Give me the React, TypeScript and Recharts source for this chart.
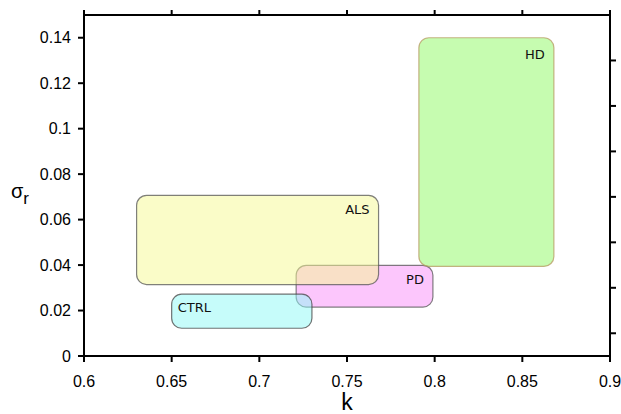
import { ScatterChart, Scatter, XAxis, YAxis, ReferenceArea } from 'recharts'

// draw order: PD first, ALS over it, CTRL over PD
const groups = ['PD', 'ALS', 'CTRL', 'HD']
const kLow = [0.721, 0.63, 0.65, 0.791]
const kHigh = [0.799, 0.768, 0.73, 0.868]
const sigmaLow = [0.0215, 0.0314, 0.0122, 0.0394]
const sigmaHigh = [0.0399, 0.0707, 0.0272, 0.14]

const kTicks = [0.6, 0.65, 0.7, 0.75, 0.8, 0.85, 0.9]
const sigmaTicks = [0, 0.02, 0.04, 0.06, 0.08, 0.1, 0.12, 0.14]
const sigmaMinorTicks = [0.01, 0.03, 0.05, 0.07, 0.09, 0.11, 0.13]

const STYLE: Record<string, { fill: string; stroke: string; anchor: 'start' | 'end'; dy: number }> = {
  PD: { fill: '#f98df9', stroke: '#555', anchor: 'end', dy: 19 },
  ALS: { fill: '#f5f991', stroke: '#555', anchor: 'end', dy: 19 },
  CTRL: { fill: '#8df9f5', stroke: '#444', anchor: 'start', dy: 18 },
  HD: { fill: '#8df961', stroke: '#b59a60', anchor: 'end', dy: 21 },
}

const FONT = '"Liberation Sans", Arial, sans-serif'

function Box({ x, y, width, height, name }: any) {
  const s = STYLE[name]
  const tx = s.anchor === 'end' ? x + width - 9 : x + 6
  return (
    <g>
      <rect
        x={x}
        y={y}
        width={width}
        height={height}
        rx={10}
        ry={10}
        fill={s.fill}
        fillOpacity={0.5}
        stroke={s.stroke}
        strokeOpacity={0.75}
        strokeWidth={1.2}
      />
      <text
        x={tx}
        y={y + s.dy}
        textAnchor={s.anchor}
        fontFamily='"DejaVu Sans", sans-serif'
        fontSize={13}
        fill="#111"
      >
        {name}
      </text>
    </g>
  )
}

function SigmaLabel({ viewBox }: any) {
  const cy = viewBox.y + viewBox.height / 2
  return (
    <text x={11} y={cy + 12} fontFamily={FONT} fill="#000">
      <tspan fontSize={20}>σ</tspan>
      <tspan fontSize={17} dy={6}>r</tspan>
    </text>
  )
}

const axisLine = { stroke: '#000', strokeWidth: 2 }
const tickLine = { stroke: '#000', strokeWidth: 2 }
const tickStyle = { fill: '#000', fontSize: 16, fontFamily: FONT }

export default function App() {
  return (
    <div style={{ position: 'absolute', left: 0, top: 0, width: 621, height: 414, background: '#fff' }}>
      <ScatterChart width={621} height={414} margin={{ top: 0, right: 0, bottom: 0, left: 0 }}>
        <XAxis
          type="number"
          dataKey="k"
          xAxisId={0}
          domain={[0.6, 0.9]}
          ticks={kTicks}
          interval={0}
          tickFormatter={(v) => String(v)}
          height={58}
          tickSize={6}
          tickMargin={14}
          axisLine={axisLine}
          tickLine={tickLine}
          tick={tickStyle}
          allowDataOverflow
          label={{ value: 'k', position: 'insideBottom', offset: 4, fontSize: 23, fontFamily: FONT, fill: '#000' }}
        />
        <XAxis
          type="number"
          dataKey="k"
          xAxisId="top"
          orientation="top"
          domain={[0.6, 0.9]}
          ticks={kTicks}
          interval={0}
          tick={{ fontSize: 1, fill: 'none' }}
          tickFormatter={() => ' '}
          height={15}
          tickSize={5}
          tickMargin={0}
          axisLine={axisLine}
          tickLine={tickLine}
          allowDataOverflow
        />
        <YAxis
          type="number"
          dataKey="s"
          yAxisId={0}
          domain={[0, 0.15]}
          ticks={sigmaTicks}
          interval={0}
          tickFormatter={(v) => String(v)}
          width={84}
          tickSize={6}
          tickMargin={7}
          axisLine={axisLine}
          tickLine={tickLine}
          tick={tickStyle}
          allowDataOverflow
          label={<SigmaLabel />}
        />
        <YAxis
          type="number"
          dataKey="s"
          yAxisId="right"
          orientation="right"
          domain={[0, 0.15]}
          ticks={sigmaMinorTicks}
          interval={0}
          tickFormatter={() => ''}
          width={11}
          tickSize={6}
          axisLine={axisLine}
          tickLine={tickLine}
          allowDataOverflow
        />
        <Scatter data={[]} xAxisId={0} yAxisId={0} isAnimationActive={false} />
        <Scatter data={[]} xAxisId="top" yAxisId="right" isAnimationActive={false} />
        {groups.map((g, i) => (
          <ReferenceArea
            key={g}
            x1={kLow[i]}
            x2={kHigh[i]}
            y1={sigmaLow[i]}
            y2={sigmaHigh[i]}
            shape={(p: any) => <Box {...p} name={g} />}
          />
        ))}
      </ScatterChart>
    </div>
  )
}
